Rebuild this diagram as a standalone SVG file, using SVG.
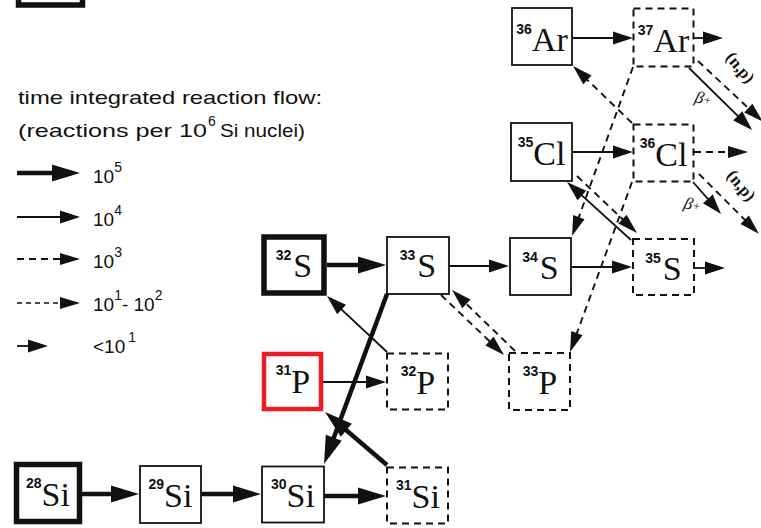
<svg xmlns="http://www.w3.org/2000/svg" width="761" height="528" viewBox="0 0 761 528">
  <style>
    .box { fill: #fff; stroke: #111; stroke-width: 1.8; }
    .dbox { fill: #fff; stroke: #111; stroke-width: 2; stroke-dasharray: 7 5; }
    .thick { stroke-width: 5.5; }
    .red { stroke: #ec1c24; stroke-width: 4.5; }
    .el { font-family: "Liberation Serif", "Times New Roman", serif; font-size: 34px; fill: #111; }
    .iso { font-family: "Liberation Sans", Arial, sans-serif; font-size: 14px; font-weight: bold; }
    .f5 { fill: none; stroke: #111; stroke-width: 4.5; }
    .f4 { fill: none; stroke: #111; stroke-width: 1.8; }
    .f3 { fill: none; stroke: #111; stroke-width: 1.9; stroke-dasharray: 7 5; }
    .f2 { fill: none; stroke: #111; stroke-width: 1.7; stroke-dasharray: 5 4; }
    .leg { font-family: "Liberation Sans", Arial, sans-serif; font-size: 19px; fill: #111; }
    .legsup { font-size: 14px; }
    .lab { font-family: "Liberation Serif", "Times New Roman", serif; font-size: 17px; font-weight: bold; fill: #111; }
    .beta { font-family: "Liberation Serif", "Times New Roman", serif; font-style: italic; font-size: 17px; fill: #111; }
  </style>
  <defs>
    <marker id="ah5" markerUnits="userSpaceOnUse" markerWidth="28" markerHeight="17" refX="20" refY="8.5" orient="auto" overflow="visible">
      <path d="M0,0 L28,8.5 L0,17 z" fill="#111"/>
    </marker>
    <marker id="ah4" markerUnits="userSpaceOnUse" markerWidth="20" markerHeight="13" refX="16" refY="6.5" orient="auto" overflow="visible">
      <path d="M0,0 L20,6.5 L0,13 z" fill="#111"/>
    </marker>
    <marker id="ah3" markerUnits="userSpaceOnUse" markerWidth="20" markerHeight="12" refX="16" refY="6" orient="auto" overflow="visible">
      <path d="M0,0 L20,6 L0,12 z" fill="#111"/>
    </marker>
  </defs>

  <rect width="761" height="528" fill="#fff"/>

  <!-- frame cut by the top edge -->
  <rect x="18.5" y="-50" width="64" height="55" fill="none" stroke="#111" stroke-width="5.5"/>

  <!-- legend -->
  <g id="legend">
    <text class="leg" x="18" y="104" textLength="304" lengthAdjust="spacingAndGlyphs">time integrated reaction flow:</text>
    <text class="leg" x="18" y="137" textLength="189" lengthAdjust="spacingAndGlyphs">(reactions per 10</text>
    <text class="leg legsup" x="208" y="126">6</text>
    <text class="leg" x="220" y="137" textLength="85" lengthAdjust="spacingAndGlyphs">Si nuclei)</text>

    <path class="f5" d="M17,173 H72" marker-end="url(#ah5)"/>
    <text class="leg" x="93" y="183">10<tspan class="legsup" dy="-11">5</tspan></text>

    <path class="f4" d="M17,217 H76" marker-end="url(#ah4)"/>
    <text class="leg" x="93" y="226">10<tspan class="legsup" dy="-11">4</tspan></text>

    <path class="f3" d="M17,259 H76" marker-end="url(#ah3)"/>
    <text class="leg" x="93" y="268">10<tspan class="legsup" dy="-11">3</tspan></text>

    <path class="f2" d="M17,303 H76" marker-end="url(#ah3)"/>
    <text class="leg" x="93" y="311">10<tspan class="legsup" dy="-11">1</tspan><tspan dy="11">- 10</tspan><tspan class="legsup" dy="-11">2</tspan></text>

    <path class="f4" d="M17,346 H44" marker-end="url(#ah4)"/>
    <text class="leg" x="93" y="353">&lt;10<tspan class="legsup" dx="3" dy="-11">1</tspan></text>
  </g>

  <!-- reaction flow connectors -->
  <g id="connectors">
    <!-- strongest flows -->
    <path class="f5" d="M82,494 H131" marker-end="url(#ah5)"/>
    <path class="f5" d="M201,494 H253" marker-end="url(#ah5)"/>
    <path class="f5" d="M324,496 H378" marker-end="url(#ah5)"/>
    <path class="f5" d="M327,265 H378" marker-end="url(#ah5)"/>
    <path class="f5" d="M387,294 L326.8,456.5" marker-end="url(#ah5)"/>
    <path class="f5" d="M387,465 L331.1,417.2" marker-end="url(#ah5)"/>

    <!-- 10^4 flows -->
    <path class="f4" d="M323,382 H382" marker-end="url(#ah4)"/>
    <path class="f4" d="M387,352 L329.9,298.7" marker-end="url(#ah4)"/>
    <path class="f4" d="M449,266 H505" marker-end="url(#ah4)"/>
    <path class="f4" d="M571,267 H628" marker-end="url(#ah4)"/>
    <path class="f4" d="M694,268 H721" marker-end="url(#ah4)"/>
    <path class="f4" d="M572,152 H629" marker-end="url(#ah4)"/>
    <path class="f4" d="M572,38 H629" marker-end="url(#ah4)"/>
    <path class="f4" d="M694,38 H719" marker-end="url(#ah4)"/>
    <path class="f4" d="M631,240 L570,184.7" marker-end="url(#ah4)"/>
    <path class="f4" d="M689,68 L749.2,127.2" marker-end="url(#ah4)"/>
    <path class="f4" d="M693,182 L718.4,210.9" marker-end="url(#ah4)"/>

    <!-- 10^3 flows -->
    <path class="f3" d="M694,152 H744" marker-end="url(#ah3)"/>
    <path class="f3" d="M441,295 L501.1,352.2" marker-end="url(#ah3)"/>
    <path class="f3" d="M515,351 L454.9,292.8" marker-end="url(#ah3)"/>
    <path class="f3" d="M577,176 L634.1,230.2" marker-end="url(#ah3)"/>
    <path class="f3" d="M632,123 L575.9,68.8" marker-end="url(#ah3)"/>
    <path class="f3" d="M633,67 L573.4,232.2" marker-end="url(#ah3)"/>
    <path class="f3" d="M632,182 L571.4,348.2" marker-end="url(#ah3)"/>
    <path class="f3" d="M698,61 L760,119" marker-end="url(#ah3)"/>
    <path class="f3" d="M699,174 L756,231" marker-end="url(#ah3)"/>

    <!-- reaction labels -->
    <text class="lab" transform="translate(736,71) rotate(50)" text-anchor="middle">(n,p)</text>
    <text class="lab" transform="translate(737,189) rotate(50)" text-anchor="middle">(n,p)</text>
    <text class="beta" transform="translate(702,104) rotate(15)" text-anchor="middle">β<tspan font-size="12" dy="-1">+</tspan></text>
    <text class="beta" transform="translate(691,210) rotate(15)" text-anchor="middle">β<tspan font-size="12" dy="-1">+</tspan></text>
  </g>

  <!-- nuclei -->
  <g id="Si28">
    <rect class="box thick" x="16.5" y="464.5" width="63" height="57"/>
    <text class="el" x="48" y="506" text-anchor="middle"><tspan class="iso" dy="-18">28</tspan><tspan dy="18">Si</tspan></text>
  </g>
  <g id="Si29">
    <rect class="box" x="140" y="466" width="61" height="57"/>
    <text class="el" x="170.5" y="507" text-anchor="middle"><tspan class="iso" dy="-18">29</tspan><tspan dy="18">Si</tspan></text>
  </g>
  <g id="Si30">
    <rect class="box" x="262" y="466.5" width="62" height="56"/>
    <text class="el" x="293" y="507" text-anchor="middle"><tspan class="iso" dy="-18">30</tspan><tspan dy="18">Si</tspan></text>
  </g>
  <g id="Si31">
    <rect class="dbox" x="387" y="467.5" width="61" height="56"/>
    <text class="el" x="418" y="508" text-anchor="middle"><tspan class="iso" dy="-18">31</tspan><tspan dy="18">Si</tspan></text>
  </g>
  <g id="P31">
    <rect class="box red" x="264" y="354" width="57" height="55"/>
    <text class="el" x="293" y="393" text-anchor="middle"><tspan class="iso" dy="-18">31</tspan><tspan dy="18">P</tspan></text>
  </g>
  <g id="P32">
    <rect class="dbox" x="387" y="353.5" width="61" height="56"/>
    <text class="el" x="418" y="394" text-anchor="middle"><tspan class="iso" dy="-18">32</tspan><tspan dy="18">P</tspan></text>
  </g>
  <g id="P33">
    <rect class="dbox" x="509" y="353" width="61" height="57"/>
    <text class="el" x="540" y="394" text-anchor="middle"><tspan class="iso" dy="-18">33</tspan><tspan dy="18">P</tspan></text>
  </g>
  <g id="S32">
    <rect class="box thick" x="264" y="237" width="60" height="56"/>
    <text class="el" x="294" y="277" text-anchor="middle"><tspan class="iso" dy="-17">32</tspan><tspan dx="2" dy="17">S</tspan></text>
  </g>
  <g id="S33">
    <rect class="box" x="387" y="237" width="62" height="57"/>
    <text class="el" x="418" y="277" text-anchor="middle"><tspan class="iso" dy="-17">33</tspan><tspan dx="2" dy="17">S</tspan></text>
  </g>
  <g id="S34">
    <rect class="box" x="510" y="238" width="61" height="57"/>
    <text class="el" x="540.5" y="279" text-anchor="middle"><tspan class="iso" dy="-17">34</tspan><tspan dx="2" dy="17">S</tspan></text>
  </g>
  <g id="S35">
    <rect class="dbox" x="633" y="239" width="61" height="56"/>
    <text class="el" x="663.5" y="280" text-anchor="middle"><tspan class="iso" dy="-17">35</tspan><tspan dx="2" dy="17">S</tspan></text>
  </g>
  <g id="Cl35">
    <rect class="box" x="511" y="123" width="61" height="58"/>
    <text class="el" x="541.5" y="165" text-anchor="middle"><tspan class="iso" dy="-18">35</tspan><tspan dy="18">Cl</tspan></text>
  </g>
  <g id="Cl36">
    <rect class="dbox" x="633.5" y="124.5" width="60" height="57"/>
    <text class="el" x="663.5" y="166" text-anchor="middle"><tspan class="iso" dy="-18">36</tspan><tspan dy="18">Cl</tspan></text>
  </g>
  <g id="Ar36">
    <rect class="box" x="512" y="8" width="60" height="57"/>
    <text class="el" x="542" y="51" text-anchor="middle"><tspan class="iso" dy="-17">36</tspan><tspan dy="17">Ar</tspan></text>
  </g>
  <g id="Ar37">
    <rect class="dbox" x="633.5" y="8.5" width="60" height="58"/>
    <text class="el" x="663.5" y="52" text-anchor="middle"><tspan class="iso" dy="-17">37</tspan><tspan dy="17">Ar</tspan></text>
  </g>
</svg>
